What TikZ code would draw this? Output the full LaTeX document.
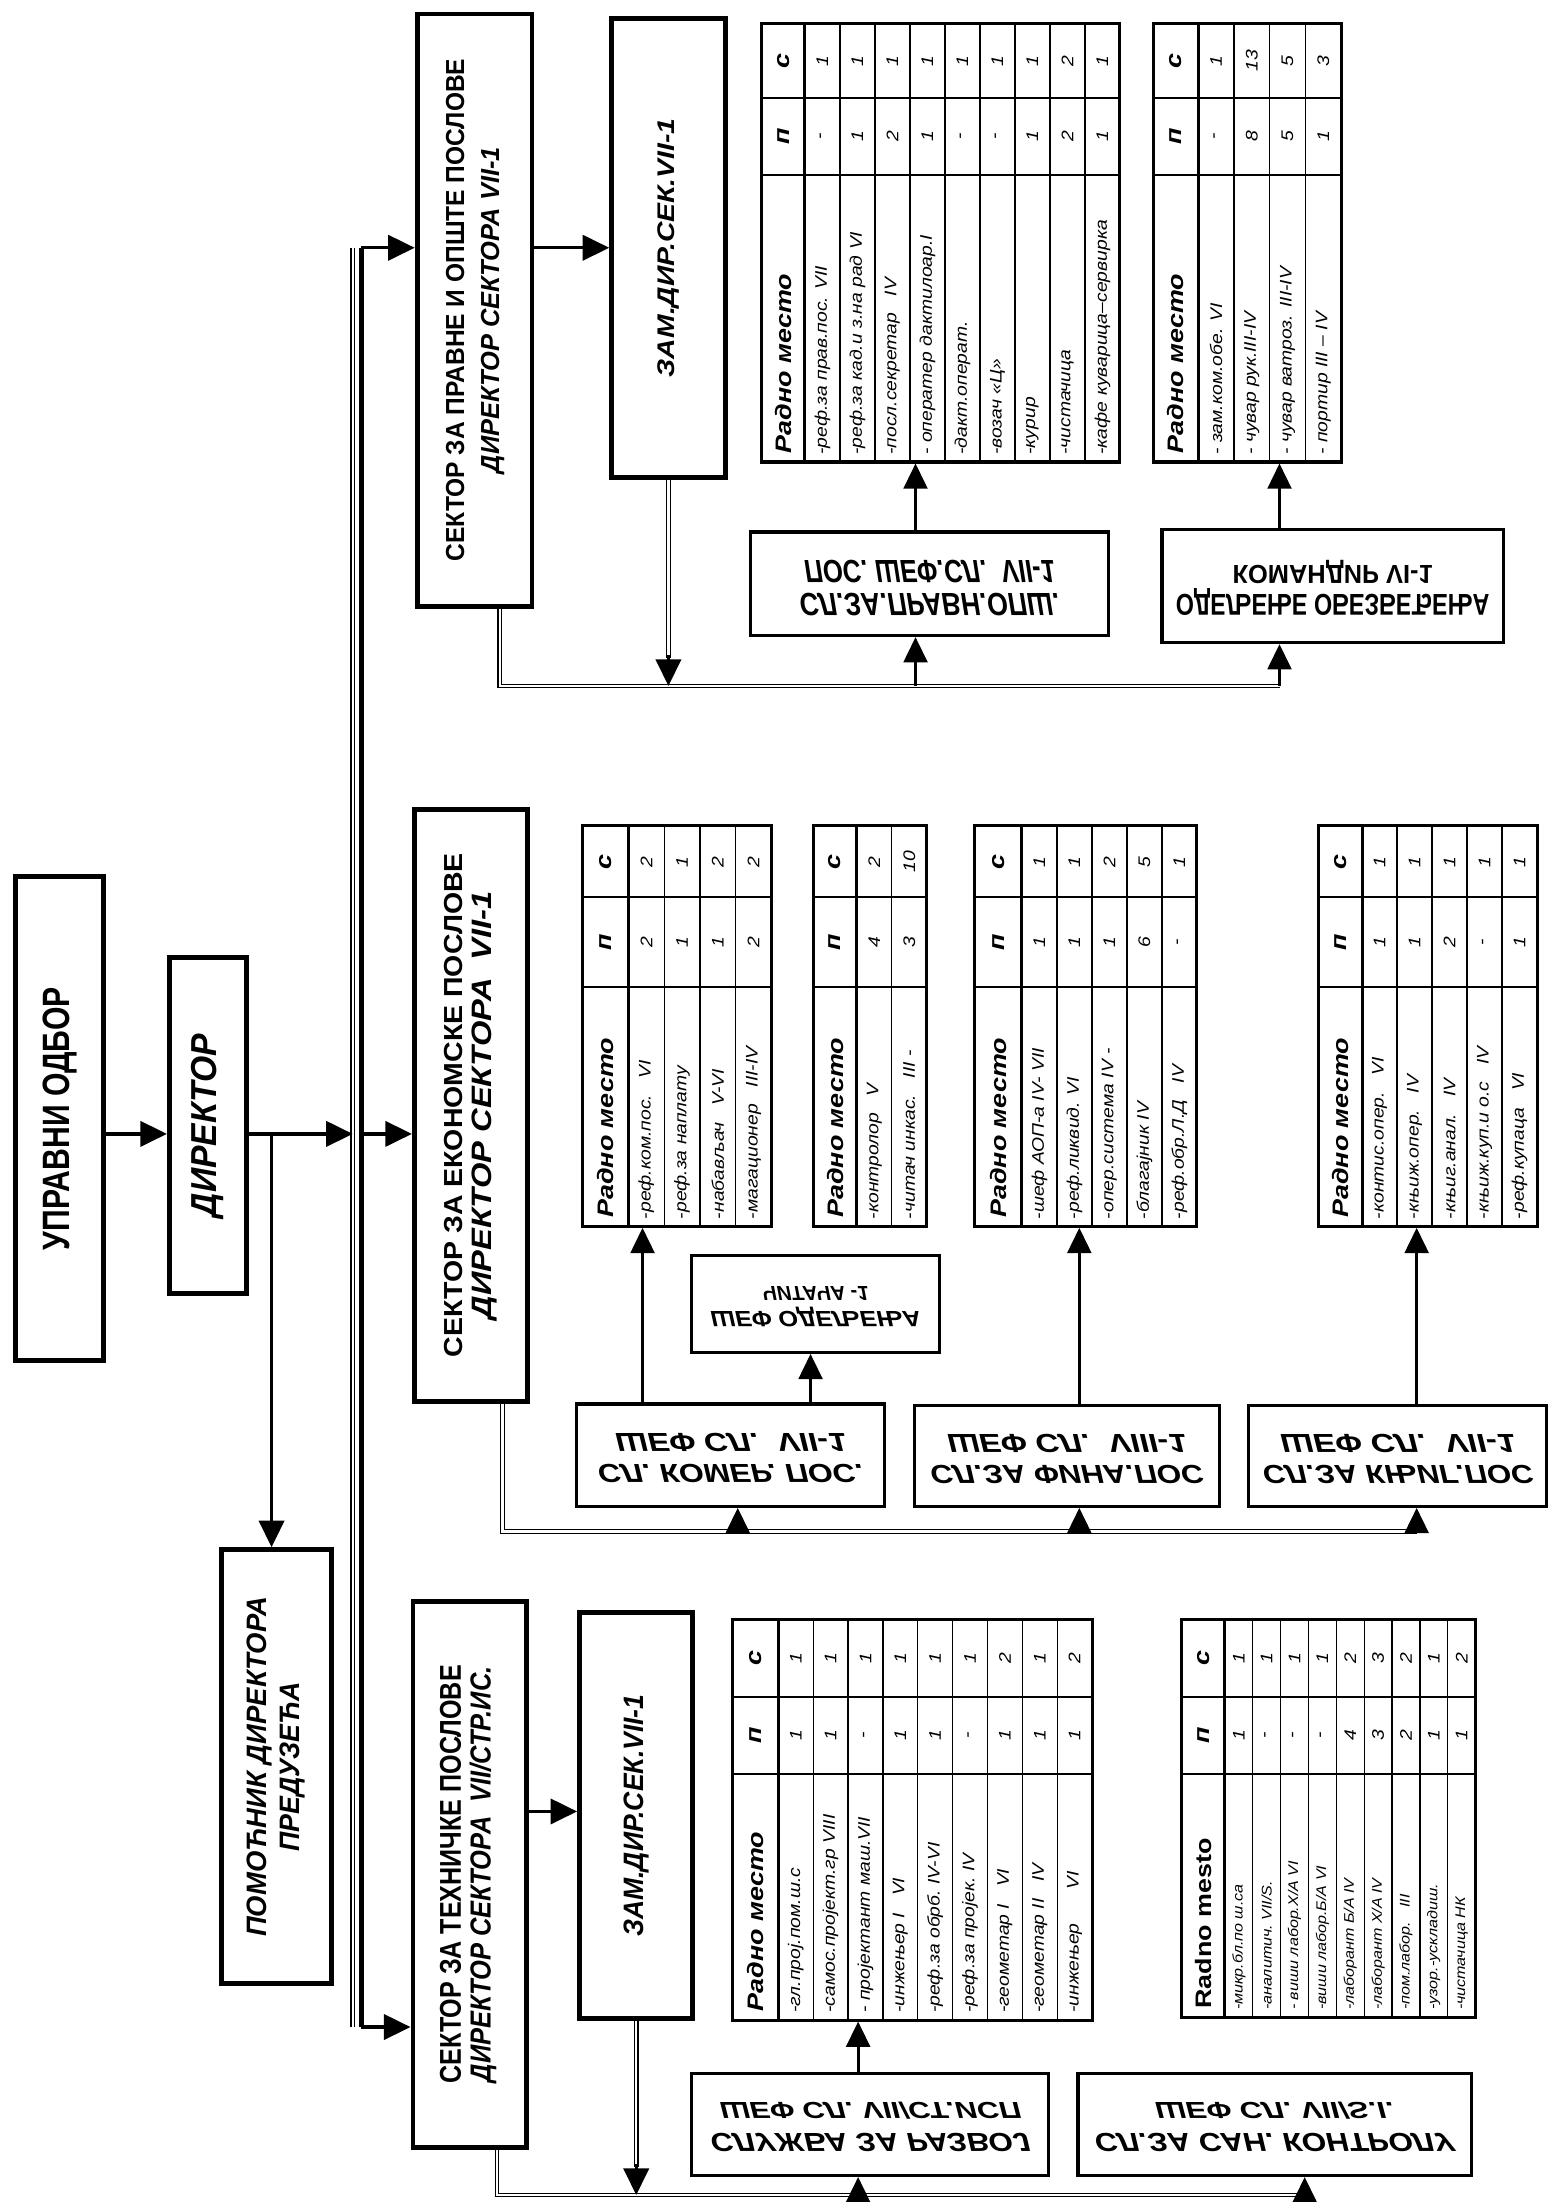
\documentclass[tikz,border=0pt]{standalone}
\usepackage{fontspec}
\usepackage{graphicx}
\setmainfont{Liberation Sans}
\newfontfamily\rowf[FakeStretch=1.15]{Liberation Sans}
\newfontfamily\headf[FakeStretch=1.2]{Liberation Sans}
\usetikzlibrary{arrows.meta,calc}

\newcommand\fs[1]{\fontsize{20}{#1}\selectfont}
\newcommand\rsz[3]{\resizebox{#1pt}{#2pt}{#3}}
\newcommand\lines[1]{\begin{tabular}{@{}c@{}}#1\end{tabular}}
\newcommand\flip[1]{\scalebox{1}[-1]{#1}}
% rotated box: style, name, x1, y1, x2, y2, text
\newcommand\rbox[7]{\node[#1, minimum width={#6-#4}, minimum height={#5-#3}] (#2) at ({(#3+#5)/2},{(#4+#6)/2}) {#7};}
% horizontal (label) box
\newcommand\lbox[7]{\node[#1, minimum width={#5-#3}, minimum height={#6-#4}] (#2) at ({(#3+#5)/2},{(#4+#6)/2}) {#7};}

\def\thead{\itshape Радно место}
\def\rowsize{12}

\tikzset{
  sbox/.style={draw, line width=3.5pt, rotate=90, inner sep=0pt, font=\bfseries},
  lbl/.style={draw, line width=2.3pt, inner sep=0pt, font=\bfseries\itshape},
  tabbox/.style={draw, line width=2.2pt, inner sep=0pt},
  tabdiv/.style={line width=1.5pt},
  tabsep/.style={line width=2.2pt},
  tabrow/.style={line width=0.9pt},
  rowtxt/.style={rotate=90, anchor=west, inner sep=0pt, font={\rowf\itshape\fontsize{\rowsize}{14}\selectfont}},
  numtxt/.style={rotate=90, inner sep=0pt, font={\rowf\itshape\fontsize{12}{14}\selectfont}},
  headtxt/.style={rotate=90, anchor=west, inner sep=0pt, font={\headf\bfseries\fontsize{16}{18}\selectfont}},
  hnum/.style={rotate=90, inner sep=0pt, font={\headf\bfseries\itshape\fontsize{16}{18}\selectfont}},
  arr/.style={line width=2.3pt, -{Triangle[length=19pt,width=18pt]}},
  arrs/.style={line width=2pt, -{Triangle[length=18pt,width=17pt]}},
  dbl/.style={line width=0.9pt, double, double distance=1.6pt},
  busthick/.style={line width=3.5pt},
}

% table: name, L, T, B, y1, y2, header width, row width, rows
\newcommand\rtab[9]{%
  \foreach \rowT/\rowP/\rowC [count=\k] in {#9}{\xdef\tabN{\k}}%
  \pgfmathsetmacro\tabR{#2+#7+\tabN*#8}%
  \node[tabbox, minimum width={\tabR-#2}, minimum height={#4-#3}] (#1) at ({(#2+\tabR)/2},{(#3+#4)/2}) {};%
  \draw[tabdiv] (#2,#5) -- (\tabR,#5);%
  \draw[tabdiv] (#2,#6) -- (\tabR,#6);%
  \draw[tabsep] ({#2+#7},#3) -- ({#2+#7},#4);%
  \node[headtxt] at ({#2+#7/2},{#4-6}) {\thead};%
  \node[hnum] at ({#2+#7/2},{(#5+#6)/2}) {п};%
  \node[hnum] at ({#2+#7/2},{(#3+#5)/2}) {с};%
  \foreach \rowT/\rowP/\rowC [count=\k] in {#9}{%
    \pgfmathsetmacro\xl{#2+#7+(\k-1)*#8}%
    \pgfmathsetmacro\xc{\xl+#8/2}%
    \ifnum\k>1 \draw[tabrow] (\xl,#3) -- (\xl,#4);\fi
    \node[rowtxt] at (\xc,{#4-5}) {\rowT};%
    \node[numtxt] at (\xc,{(#5+#6)/2}) {\rowP};%
    \node[numtxt] at (\xc,{(#3+#5)/2}) {\rowC};%
  }%
}

\begin{document}
\begin{tikzpicture}[x=1pt,y=-1pt]
\useasboundingbox (0,0) rectangle (1110,1573);
\fill[white] (0,0) rectangle (1110,1573);

% ---------- left column ----------
\rbox{sbox}{upr}{11}{626}{74}{972}{\rsz{188}{19}{УПРАВНИ ОДБОР}}
\rbox{sbox}{dir}{121}{684}{176}{924}{\rsz{131}{18}{\itshape ДИРЕКТОР}}
\rbox{sbox}{pom}{158}{1107}{237}{1417}{\itshape\fs{24}\lines{\rsz{243}{14}{ПОМОЋНИК ДИРЕКТОРА}\\\rsz{121}{14}{ПРЕДУЗЕЋА}}}

% ---------- sectors ----------
\rbox{sbox}{s1}{298}{10}{380}{433}{\fs{25}\lines{\rsz{359}{13}{СЕКТОР ЗА ПРАВНЕ И ОПШТЕ ПОСЛОВЕ}\\\rsz{233}{13}{\itshape ДИРЕКТОР СЕКТОРА VII-1}}}
\rbox{sbox}{s2}{296}{578}{377}{1001}{\fs{21}\lines{\rsz{360}{13}{СЕКТОР ЗА ЕКОНОМСКЕ ПОСЛОВЕ}\\\rsz{306}{14}{\itshape ДИРЕКТОР СЕКТОРА\ \ VII-1}}}
\rbox{sbox}{s3}{295}{1144}{376}{1534}{\fs{21}\lines{\rsz{299}{15}{СЕКТОР ЗА ТЕХНИЧКЕ ПОСЛОВЕ}\\\rsz{297}{15}{\itshape ДИРЕКТОР СЕКТОРА\ \ VII/СТР.ИС.}}}
\rbox{sbox}{z1}{437}{13}{518}{341}{\rsz{185}{12}{\itshape ЗАМ.ДИР.СЕК.VII-1}}
\rbox{sbox}{z3}{414}{1152}{495}{1442}{\rsz{173}{14}{\itshape ЗАМ.ДИР.СЕК.VII-1}}

% ---------- service labels (printed mirrored) ----------
\lbox{lbl}{l1}{536}{380}{792}{454}{\flip{\fs{24}\lines{\rsz{186}{16}{СЛ.ЗА.ПРАВН.ОПШ.}\\\rsz{179}{16}{ПОС. ШЕФ.СЛ.\ \ VII-1}}}}
\lbox{lbl}{l2}{830}{378}{1074}{459}{\upshape\flip{\fs{21}\lines{\rsz{224}{15}{ОДЕЉЕЊЕ ОБЕЗБЕЂЕЊА}\\\rsz{143}{13}{КОМАНДИР VI-1}}}}
\lbox{lbl}{lk}{412}{1003}{632}{1076}{\flip{\fs{22}\lines{\rsz{190}{13}{СЛ. КОМЕР. ПОС.}\\\rsz{165}{13}{ШЕФ СЛ.\ \ VII-1}}}}
\lbox{lbl}{lf}{653}{1004}{871}{1076}{\flip{\fs{22}\lines{\rsz{195}{13}{СЛ.ЗА ФИНА.ПОС}\\\rsz{171}{13}{ШЕФ СЛ.\ \ VIII-1}}}}
\lbox{lbl}{lg}{892}{1004}{1105}{1076}{\flip{\fs{22}\lines{\rsz{193}{13}{СЛ.ЗА КЊИГ.ПОС}\\\rsz{168}{13}{ШЕФ СЛ.\ \ VII-1}}}}
\lbox{lbl}{lc}{494}{897}{671}{966}{\flip{\fs{18}\lines{\rsz{150}{11}{ШЕФ ОДЕЉЕЊА}\\\rsz{76}{10}{ЧИТАЧА -1}}}}
\lbox{lbl}{ls}{494}{1481}{749}{1554}{\flip{\fs{22}\lines{\rsz{228}{13}{СЛУЖБА ЗА РАЗВОЈ}\\\rsz{215}{12}{ШЕФ СЛ. VII/СТ.ИСП}}}}
\lbox{lbl}{ln}{770}{1481}{1051}{1554}{\flip{\fs{22}\lines{\rsz{257}{13}{СЛ.ЗА САН. КОНТРОЛУ}\\\rsz{171}{12}{ШЕФ СЛ. VII/S.I.}}}}

% ---------- tables ----------
\rtab{t1}{544}{17}{330}{70}{125}{31}{25}{-реф.за прав.пос. VII/-/1, -реф.за кад.и з.на рад VI/1/1, -посл.секретар\quad IV/2/1, - оператер дактилоар.I/1/1, -дакт.операт./-/1, -возач «Ц»/-/1, -курир/1/1, -чистачица/2/2, -кафе куварица–сервирка/1/1}
\rtab{t2}{824}{17}{330}{70}{125}{32}{25.5}{- зам.ком.обе. VI/-/1, - чувар рук.III-IV/8/13, - чувар ватроз. III-IV/5/5, - портир III – IV/1/3}
\rtab{e1}{416}{590}{876}{641}{705}{33}{25.5}{-реф.ком.пос.\quad VI/2/2, -реф.за наплату/1/1, -набављач\quad V-VI/1/2, -магационер\quad III-IV/2/2}
\rtab{e2}{581}{590}{876}{641}{705}{31}{25}{-контролор\quad V/4/2, -читач инкас.\quad III -/3/10}
\rtab{e3}{696}{590}{876}{641}{705}{34}{25}{-шеф АОП-а IV- VII/1/1, -реф.ликвид. VI/1/1, -опер.система IV -/1/2, -благајник IV/6/5, -реф.обр.Л.Д\quad IV/-/1}
\rtab{e4}{942}{590}{876}{641}{705}{31}{25}{-контис.опер.\quad VI/1/1, -књиж.опер.\quad IV/1/1, -књиг.анал.\quad IV/2/1, -књиж.куп.и о.с\quad IV/-/1, -реф.купаца\quad VI/1/1}
\rtab{b1}{523}{1157}{1443}{1212}{1267}{33}{24.9}{-гл.прој.пом.ш.с/1/1, -самос.пројект.гр VIII/1/1, - пројектант маш.VII/-/1, -инжењер I\quad VI/1/1, -реф.за обрб.\ IV-VI/1/1, -реф.за пројек.\ IV/-/1, -геометар I\quad VI/1/2, -геометар II\quad IV/1/1, -инжењер\qquad VI/1/2}
\def\thead{\upshape Radno mesto}
\def\rowsize{10}
\rtab{b2}{844}{1157}{1441}{1212}{1267}{31}{19.9}{-микр.бл.по ш.са/1/1, {-аналитич.\ VII/S.}/-/1, {- виши лабор.Х/А\ VI}/-/1, {-виши лабор.Б/А\ VI}/-/1, {-лаборант\ Б/А\ IV}/4/2, {-лаборант\ Х/А\ IV}/3/3, -пом.лабор.\quad III/2/2, -узор.-ускладиш./1/1, -чистачица\ НК/1/2}

% ---------- main bus ----------
\coordinate (ya) at (0,810);
\coordinate (thinx) at (252,0);
\coordinate (bt) at (258,177);
\coordinate (bb) at (258,1448);
\coordinate (bm) at (258,810);
\coordinate (br) at (194,810);
\draw[dbl] (thinx |- bt) -- (thinx |- bb);
\draw[busthick] (bt) -- (bb);
\draw[arr] (upr.south |- ya) -- (dir.north |- ya);
\draw[arr] (dir.south |- ya) -- (thinx |- ya);
\draw[arr] (bm) -- (s2.north |- bm);
\draw[arr] (bt) -- (s1.north |- bt);
\draw[arr] (bb) -- (s3.north |- bb);
\draw[arr] (br) -- (br |- pom.east);

% sector -> deputy
\coordinate (yc) at (0,1294);
\draw[arr] (s1.south |- bt) -- (z1.north |- bt);
\draw[arr] (s3.south |- yc) -- (z3.north |- yc);

% ---------- top section bus ----------
\coordinate (h1s) at (357,490);
\coordinate (h1e) at (914,490);
\draw[dbl] (h1s |- s1.west) -- (h1s) -- (h1e);
\draw[dbl] (z1.west) -- ($(z1.west |- h1s)+(0,-20)$);
\draw[arr] ($(z1.west |- h1s)+(0,-22)$) -- (z1.west |- h1s);
\coordinate (a1) at (654,490);
\draw[arrs] (a1) -- (a1 |- l1.south);
\draw[arrs] (a1 |- l1.north) -- (a1 |- t1.south);
\coordinate (a2) at (914,490);
\draw[arrs] (a2) -- (a2 |- l2.south);
\draw[arrs] (a2 |- l2.north) -- (a2 |- t2.south);

% ---------- economic section bus ----------
\coordinate (h2s) at (359,1094);
\coordinate (h2e) at (1012,1094);
\draw[dbl] (h2s |- s2.west) -- (h2s) -- (h2e);
\coordinate (a3) at (527,1094);
\draw[arrs] (a3) -- (a3 |- lk.south);
\coordinate (a3b) at (459,0);
\draw[arrs] (a3b |- lk.north) -- (a3b |- e1.south);
\coordinate (a3c) at (579,0);
\draw[arrs] (a3c |- lk.north) -- (a3c |- lc.south);
\coordinate (a4) at (771,1094);
\draw[arrs] (a4) -- (a4 |- lf.south);
\draw[arrs] (a4 |- lf.north) -- (a4 |- e3.south);
\coordinate (a5) at (1012,1094);
\draw[arrs] (a5) -- (a5 |- lg.south);
\draw[arrs] (a5 |- lg.north) -- (a5 |- e4.south);

% ---------- technical section bus ----------
\coordinate (h3s) at (355,1568);
\coordinate (h3e) at (932,1568);
\draw[dbl] (h3s |- s3.west) -- (h3s) -- (h3e);
\draw[dbl] (z3.west) -- ($(z3.west |- h3s)+(0,-20)$);
\draw[arr] ($(z3.west |- h3s)+(0,-22)$) -- (z3.west |- h3s);
\coordinate (a6) at (613,1568);
\draw[arrs] (a6) -- (a6 |- ls.south);
\draw[arrs] (a6 |- ls.north) -- (a6 |- b1.south);
\coordinate (a7) at (932,1568);
\draw[arrs] (a7) -- (a7 |- ln.south);
\end{tikzpicture}
\end{document}
